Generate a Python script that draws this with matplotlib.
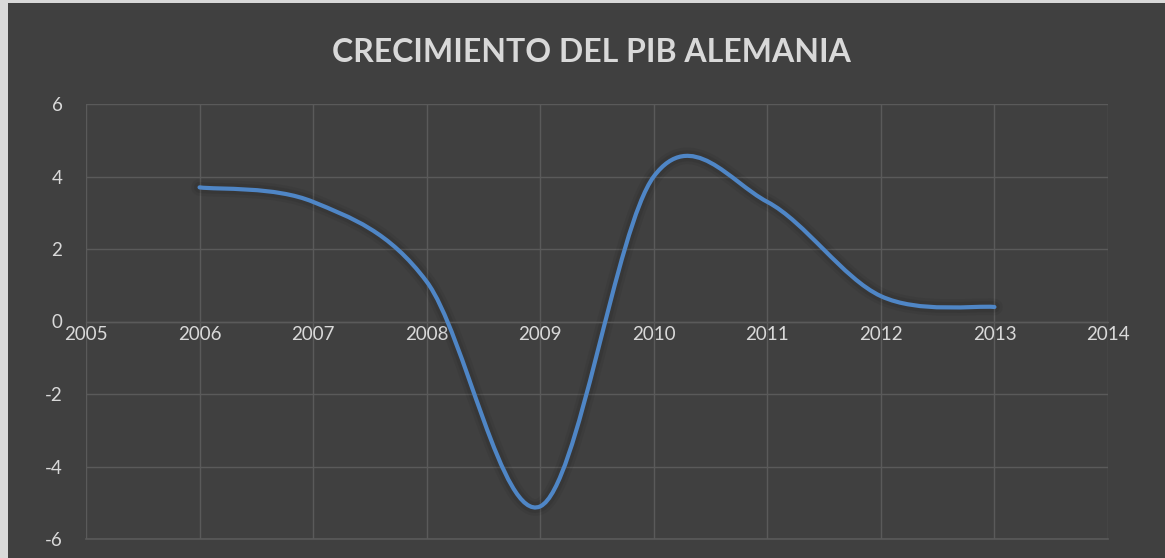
import matplotlib
matplotlib.use("Agg")
import matplotlib.pyplot as plt
import numpy as np
from matplotlib.path import Path
from matplotlib.patches import PathPatch, Rectangle

plt.rcParams['axes.unicode_minus'] = False

# ── data ───────────────────────────────────────────────────
years  = [2006, 2007, 2008, 2009, 2010, 2011, 2012, 2013]
growth = [3.7, 3.3, 1.1, -5.1, 4.0, 3.3, 0.7, 0.4]
x_ticks = [2005, 2006, 2007, 2008, 2009, 2010, 2011, 2012, 2013, 2014]
y_ticks = [-6, -4, -2, 0, 2, 4, 6]
title = 'CRECIMIENTO DEL PIB ALEMANIA'

BG    = '#404040'
GRID  = '#5a5a5a'
TXT   = '#d9d9d9'
BLUE  = '#4f86c6'

fig = plt.figure(figsize=(11.65, 5.58), dpi=100)
fig.patch.set_facecolor('#d9d9d9')
fig.patches.append(Rectangle((8 / 1165, 0), 1, 1 - 3 / 558,
                             transform=fig.transFigure,
                             facecolor=BG, edgecolor='none', zorder=-5))

ax = fig.add_axes([86 / 1165, 19 / 558, 1022 / 1165, 435 / 558])
ax.set_facecolor(BG)
ax.set_xlim(2005, 2014)
ax.set_ylim(-6, 6)
ax.set_xticks(x_ticks)
ax.set_yticks(y_ticks)
ax.grid(True, color=GRID, linewidth=1.0)
ax.set_axisbelow(True)
# bottom edge of plot area
ax.plot([0, 1], [0, 0], transform=ax.transAxes, color=GRID,
        linewidth=1.2, clip_on=False, zorder=1.5)

for s in ['top', 'right', 'left']:
    ax.spines[s].set_visible(False)
ax.spines['bottom'].set_position(('data', 0))
ax.spines['bottom'].set_color(GRID)
ax.spines['bottom'].set_linewidth(1.0)

ax.tick_params(axis='both', length=0, labelsize=13.5, labelcolor=TXT)
ax.tick_params(axis='y', pad=17)
ax.tick_params(axis='x', pad=3)
for lab in ax.get_xticklabels() + ax.get_yticklabels():
    lab.set_fontfamily('Lato')

# ── Excel-style smoothed line (Bezier through the points) ──
pts = np.column_stack([years, growth]).astype(float)
n = len(pts)
verts = [tuple(pts[0])]
codes = [Path.MOVETO]
for i in range(n - 1):
    p0 = pts[i - 1] if i > 0 else pts[i]
    p1 = pts[i]
    p2 = pts[i + 1]
    p3 = pts[i + 2] if i + 2 < n else pts[i + 1]
    c1 = p1 + (p2 - p0) / 6
    c2 = p2 - (p3 - p1) / 6
    verts += [tuple(c1), tuple(c2), tuple(p2)]
    codes += [Path.CURVE4] * 3
path = Path(verts, codes)

# soft shadow under the line
for lw, a in [(12, 0.05), (8, 0.07)]:
    ax.add_patch(PathPatch(path, facecolor='none', edgecolor='black',
                           linewidth=lw, alpha=a, capstyle='round',
                           joinstyle='round', zorder=2))
ax.add_patch(PathPatch(path, facecolor='none', edgecolor=BLUE,
                       linewidth=3.0, capstyle='round',
                       joinstyle='round', zorder=3))

fig.text(0.508, 1 - 52 / 558, title, ha='center', va='center',
         fontsize=23, fontweight='bold', color=TXT, family='Lato')

plt.savefig('out.png', dpi=100, facecolor=fig.get_facecolor())
